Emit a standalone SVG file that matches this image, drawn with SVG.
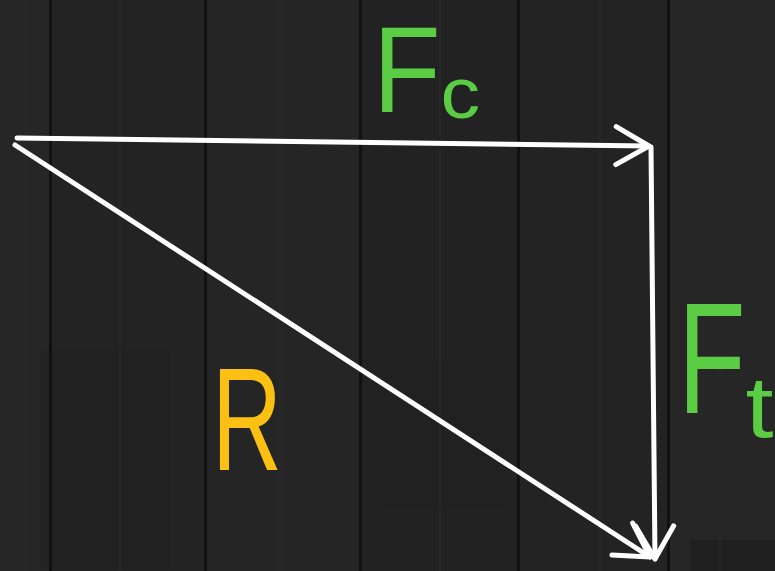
<svg xmlns="http://www.w3.org/2000/svg" width="775" height="571" viewBox="0 0 775 571">
  <style>
    .seam { fill: #111111; }
    .grain { stroke: #2b2b2b; stroke-width: 2; opacity: 0.5; }
    .vec { stroke: #ffffff; stroke-width: 5; fill: none; stroke-linecap: round; }
    .lbl { font-family: "Liberation Sans", "DejaVu Sans", sans-serif; }
    .green { fill: #5bcd45; }
    .yellow { fill: #fcc012; }
  </style>
  <defs>
    <marker id="head" markerUnits="userSpaceOnUse" markerWidth="50" markerHeight="50" viewBox="-40 -25 50 50" refX="0" refY="0" orient="auto">
      <path d="M -33 -19 L 0 0 L -33 19" stroke="#ffffff" stroke-width="5" fill="none" stroke-linecap="round" stroke-linejoin="round"/>
    </marker>
  </defs>
  <g id="background">
    <rect x="0" y="0" width="775" height="571" fill="#242424"/>
    <rect x="0" y="0" width="50" height="571" fill="#262626"/>
    <rect x="52" y="0" width="152" height="571" fill="#232323"/>
    <rect x="207" y="0" width="152" height="571" fill="#252525"/>
    <rect x="362" y="0" width="155" height="571" fill="#222222"/>
    <rect x="520" y="0" width="147" height="571" fill="#232323"/>
    <rect x="670" y="0" width="105" height="571" fill="#262626"/>
    <rect x="40" y="350" width="130" height="220" fill="#202020" opacity="0.5"/>
    <rect x="380" y="360" width="130" height="150" fill="#1f1f1f" opacity="0.5"/>
    <rect x="690" y="540" width="85" height="31" fill="#1d1d1d" opacity="0.6"/>
    <line class="grain" x1="25" y1="0" x2="25" y2="571"/>
    <line class="grain" x1="120" y1="0" x2="120" y2="571"/>
    <line class="grain" x1="280" y1="0" x2="280" y2="571"/>
    <line class="grain" x1="440" y1="0" x2="440" y2="571"/>
    <line class="grain" x1="600" y1="0" x2="600" y2="571"/>
    <line class="grain" x1="720" y1="0" x2="720" y2="571"/>
    <rect class="seam" x="49" y="0" width="3" height="571"/>
    <rect class="seam" x="204" y="0" width="3" height="571"/>
    <rect class="seam" x="359" y="0" width="3" height="571"/>
    <rect class="seam" x="517" y="0" width="3" height="571"/>
    <rect class="seam" x="667" y="0" width="3" height="571"/>
  </g>
  <g id="connectors">
    <line class="vec" x1="17" y1="138" x2="649" y2="146" marker-end="url(#head)"/>
    <line class="vec" x1="651" y1="147" x2="655" y2="559" marker-end="url(#head)"/>
    <line class="vec" x1="15" y1="145" x2="650" y2="557" marker-end="url(#head)"/>
  </g>
  <g id="label-Fc">
    <text class="lbl green" transform="translate(373,112) scale(0.9,1)" font-size="123"><tspan>F</tspan><tspan font-size="72" dy="6" textLength="44" lengthAdjust="spacingAndGlyphs">c</tspan></text>
  </g>
  <g id="label-Ft">
    <text class="lbl green" transform="translate(678,413) scale(0.7,1)" font-size="158"><tspan>F</tspan><tspan font-size="88" dy="24" textLength="40" lengthAdjust="spacingAndGlyphs">t</tspan></text>
  </g>
  <g id="label-R">
    <text class="lbl yellow" x="212" y="470" font-size="146" textLength="70" lengthAdjust="spacingAndGlyphs">R</text>
  </g>
</svg>
